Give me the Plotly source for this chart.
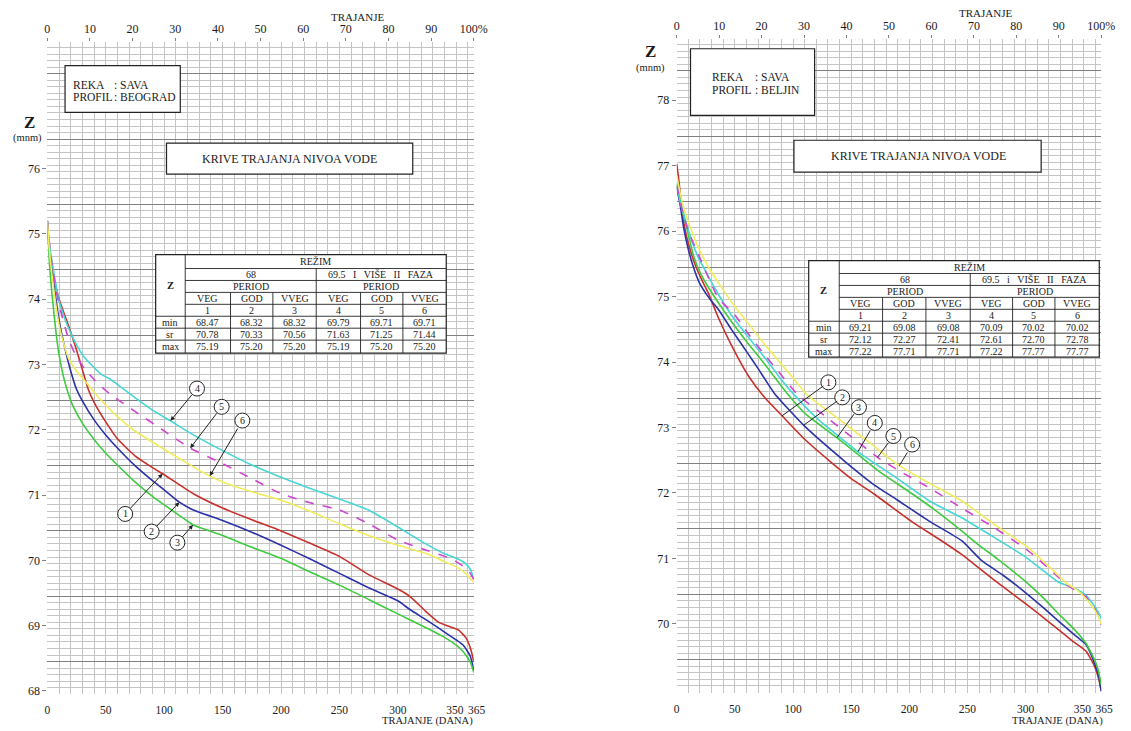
import numpy as np
import plotly.graph_objects as go

W, H = 1131, 731
SERIF = "Liberation Serif"
INK = "#1a1a1a"
LIGHT = "#c4c4c4"
DARK = "#808080"

# ===================== DATA =====================
# Sava - profil Beograd: duration (days) vs water level Z (m a.s.l.)
bg1_days = [0, 2, 5, 10, 15, 20, 25, 30, 35, 40, 50, 60, 75, 90, 100, 125, 150, 175, 200, 225, 250, 275, 300, 310, 325, 335, 345, 352, 358, 362, 365]
bg1_z = [75.19, 74.75, 74.4, 74.0, 73.75, 73.5, 73.22, 72.92, 72.62, 72.42, 72.12, 71.86, 71.6, 71.42, 71.31, 71.02, 70.8, 70.62, 70.45, 70.26, 70.06, 69.78, 69.56, 69.45, 69.2, 69.05, 68.98, 68.93, 68.82, 68.66, 68.45]

bg2_days = [0, 2, 5, 10, 15, 20, 25, 30, 40, 50, 60, 75, 90, 100, 113, 125, 150, 175, 200, 225, 250, 275, 300, 310, 325, 340, 350, 356, 362, 365]
bg2_z = [75.2, 74.65, 74.3, 73.68, 73.25, 72.9, 72.62, 72.44, 72.15, 71.92, 71.72, 71.45, 71.22, 71.08, 70.89, 70.77, 70.61, 70.43, 70.23, 70.02, 69.8, 69.58, 69.38, 69.25, 69.08, 68.9, 68.78, 68.7, 68.53, 68.32]

bg3_days = [0, 2, 4, 8, 11, 14, 18, 22, 30, 40, 50, 60, 75, 90, 100, 112, 125, 150, 175, 200, 225, 250, 275, 300, 325, 340, 350, 356, 362, 365]
bg3_z = [75.2, 74.5, 74.07, 73.4, 73.05, 72.8, 72.55, 72.36, 72.1, 71.85, 71.64, 71.46, 71.2, 70.98, 70.85, 70.7, 70.54, 70.38, 70.2, 70.03, 69.82, 69.62, 69.4, 69.18, 68.96, 68.82, 68.7, 68.6, 68.44, 68.28]

bg4_days = [0, 2, 4, 7, 10, 14, 18, 25, 32, 46, 55, 75, 90, 105, 125, 150, 175, 200, 225, 250, 275, 300, 325, 340, 350, 358, 362, 365]
bg4_z = [75.19, 74.8, 74.58, 74.25, 73.97, 73.75, 73.56, 73.3, 73.1, 72.85, 72.76, 72.49, 72.3, 72.14, 71.92, 71.68, 71.46, 71.27, 71.1, 70.94, 70.77, 70.51, 70.24, 70.1, 70.03, 69.95, 69.86, 69.72]

bg5_days = [0, 3, 6, 9, 13, 18, 24, 32, 41, 50, 58, 75, 100, 122, 150, 175, 200, 225, 250, 275, 300, 325, 340, 350, 358, 362, 365]
bg5_z = [75.2, 74.65, 74.3, 74.0, 73.71, 73.4, 73.15, 72.93, 72.75, 72.6, 72.49, 72.28, 71.98, 71.72, 71.48, 71.25, 71.02, 70.88, 70.77, 70.56, 70.31, 70.15, 70.06, 69.98, 69.88, 69.8, 69.7]

bg6_days = [0, 2, 4, 7, 10, 14, 18, 25, 32, 46, 60, 75, 100, 125, 139, 150, 175, 200, 225, 250, 275, 300, 325, 340, 350, 358, 362, 365]
bg6_z = [75.2, 74.7, 74.37, 73.95, 73.61, 73.32, 73.1, 72.9, 72.75, 72.45, 72.2, 71.98, 71.7, 71.43, 71.29, 71.2, 71.05, 70.92, 70.75, 70.56, 70.38, 70.23, 70.1, 69.98, 69.9, 69.8, 69.72, 69.66]

# Sava - profil Beljin
bj1_days = [0, 2, 5, 9, 16, 22, 28, 36, 47, 62, 76, 90, 110, 132, 150, 170, 203, 225, 245, 260, 275, 299, 315, 329, 340, 352, 359, 363, 365]
bj1_z = [77.03, 76.75, 76.24, 75.88, 75.48, 75.24, 75.02, 74.67, 74.26, 73.78, 73.45, 73.19, 72.82, 72.48, 72.22, 71.98, 71.55, 71.3, 71.06, 70.85, 70.64, 70.32, 70.1, 69.9, 69.74, 69.58, 69.36, 69.15, 68.97]

bj2_days = [0, 3, 6, 10, 14, 19, 25, 30, 36, 47, 62, 70, 84, 110, 146, 170, 189, 217, 245, 262, 280, 299, 315, 329, 340, 352, 360, 363, 365]
bj2_z = [76.67, 76.4, 76.05, 75.72, 75.47, 75.23, 75.05, 74.93, 74.8, 74.5, 74.11, 73.9, 73.52, 73.02, 72.46, 72.12, 71.9, 71.57, 71.27, 70.97, 70.75, 70.49, 70.25, 70.03, 69.86, 69.68, 69.36, 69.18, 68.97]

bj3_days = [0, 5, 10, 14, 20, 28, 47, 62, 76, 95, 110, 138, 155, 174, 203, 225, 245, 260, 276, 299, 315, 329, 340, 352, 360, 363, 365]
bj3_z = [76.72, 76.3, 75.95, 75.65, 75.37, 75.12, 74.62, 74.27, 73.96, 73.52, 73.22, 72.84, 72.6, 72.33, 71.98, 71.7, 71.42, 71.2, 70.99, 70.66, 70.4, 70.14, 69.95, 69.7, 69.42, 69.25, 69.07]

bj4_days = [0, 3, 8, 13, 19, 26, 33, 47, 62, 76, 87, 98, 120, 155, 189, 217, 245, 273, 300, 316, 328, 344, 352, 360, 363, 365]
bj4_z = [76.75, 76.45, 76.14, 75.85, 75.58, 75.35, 75.12, 74.72, 74.37, 74.06, 73.8, 73.56, 73.15, 72.64, 72.23, 71.88, 71.62, 71.32, 71.02, 70.8, 70.64, 70.53, 70.43, 70.25, 70.16, 70.08]

bj5_days = [0, 5, 10, 19, 27, 36, 50, 62, 76, 90, 104, 130, 150, 173, 195, 217, 245, 273, 302, 324, 335, 344, 352, 360, 363, 365]
bj5_z = [76.7, 76.3, 76.0, 75.63, 75.3, 74.97, 74.72, 74.42, 74.1, 73.8, 73.5, 73.14, 72.86, 72.54, 72.3, 72.08, 71.77, 71.47, 71.12, 70.78, 70.6, 70.5, 70.41, 70.21, 70.1, 69.98]

bj6_days = [0, 5, 11, 20, 28, 47, 62, 76, 98, 112, 140, 165, 191, 217, 245, 273, 302, 324, 335, 344, 352, 358, 362, 365]
bj6_z = [76.85, 76.42, 76.09, 75.7, 75.43, 74.92, 74.58, 74.26, 73.8, 73.5, 73.12, 72.78, 72.42, 72.15, 71.88, 71.52, 71.17, 70.81, 70.62, 70.52, 70.38, 70.25, 70.12, 70.0]

series_colors = ["#c8302c", "#2a32a8", "#3fcb3f", "#45d6d6", "#cf45cf", "#f0ec5a"]
series_dash = ["solid", "solid", "solid", "solid", "dash", "solid"]

# Curve label circles (number, day of arrow tip, circle centre day, circle centre Z)
lab_nums = [1, 2, 3, 4, 5, 6]
bg_lab_tip_day = [98.6, 113, 124.7, 105.4, 122.3, 139]
bg_lab_c_day = [66.6, 89.3, 111.3, 128.1, 149.2, 166.9]
bg_lab_c_z = [70.71, 70.44, 70.27, 72.63, 72.35, 72.14]
bj_lab_tip_day = [90.6, 109.2, 137.7, 155.8, 172.7, 191.4]
bj_lab_c_day = [130.4, 142.3, 156.7, 170.3, 186.3, 202.4]
bj_lab_c_z = [73.69, 73.46, 73.31, 73.07, 72.87, 72.74]

# Axis ticks
NB = "\u00a0"
day_ticks = [0, 50, 100, 150, 200, 250, 300, 350, 365]
day_text = ["0", "50", "100", "150", "200", "250", "300", "350" + NB, NB * 2 + "365"]
pct_ticks = [0, 10, 20, 30, 40, 50, 60, 70, 80, 90, 100]
pct_text = ["0", "10", "20", "30", "40", "50", "60", "70", "80", "90", "100%"]
bg_z_ticks = [68, 69, 70, 71, 72, 73, 74, 75, 76]
bj_z_ticks = [70, 71, 72, 73, 74, 75, 76, 77, 78]

# Tables
tbl_period = ["VEG", "GOD", "VVEG", "VEG", "GOD", "VVEG"]
tbl_num = ["1", "2", "3", "4", "5", "6"]
tbl_rowlab = ["min", "sr", "max"]
bg_min = [68.47, 68.32, 68.32, 69.79, 69.71, 69.71]
bg_sr = [70.78, 70.33, 70.56, 71.63, 71.25, 71.44]
bg_max = [75.19, 75.20, 75.20, 75.19, 75.20, 75.20]
bj_min = [69.21, 69.08, 69.08, 70.09, 70.02, 70.02]
bj_sr = [72.12, 72.27, 72.41, 72.61, 72.70, 72.78]
bj_max = [77.22, 77.71, 77.71, 77.22, 77.77, 77.77]

bg_series = [(bg1_days, bg1_z), (bg2_days, bg2_z), (bg3_days, bg3_z),
             (bg4_days, bg4_z), (bg5_days, bg5_z), (bg6_days, bg6_z)]
bj_series = [(bj1_days, bj1_z), (bj2_days, bj2_z), (bj3_days, bj3_z),
             (bj4_days, bj4_z), (bj5_days, bj5_z), (bj6_days, bj6_z)]

# ===================== FIGURE =====================
fig = go.Figure()
for series, xa, ya in [(bg_series, "x", "y"), (bj_series, "x2", "y2")]:
    for i, (d, z) in enumerate(series):
        fig.add_trace(go.Scatter(
            x=d, y=z, mode="lines", xaxis=xa, yaxis=ya, showlegend=False, hoverinfo="skip",
            line=dict(color=series_colors[i], width=1.6, dash=series_dash[i],
                      shape="spline", smoothing=0.5)))

# empty traces so that the overlay axes (percent scale, major grid) are drawn
for xa, ya in [("x3", "y"), ("x", "y3"), ("x4", "y2"), ("x2", "y4")]:
    fig.add_trace(go.Scatter(x=[], y=[], xaxis=xa, yaxis=ya, mode="lines",
                             showlegend=False, hoverinfo="skip"))


def px(p):
    return p / W


def py(p):
    return 1 - p / H


shapes = []
annotations = []


def text(x, y, s, size=12, xanchor="center", bold=False, family=SERIF):
    annotations.append(dict(
        x=px(x), y=py(y), xref="paper", yref="paper", text=("<b>%s</b>" % s) if bold else s,
        showarrow=False, xanchor=xanchor, yanchor="middle",
        font=dict(family=family, size=size, color=INK)))


def rect(x0, y0, x1, y1, lw=1.2):
    shapes.append(dict(type="rect", xref="paper", yref="paper", x0=px(x0), x1=px(x1),
                       y0=py(y1), y1=py(y0), line=dict(color="#222", width=lw),
                       fillcolor="white", layer="above"))


def hline(x0, x1, y, lw=0.9):
    shapes.append(dict(type="line", xref="paper", yref="paper", x0=px(x0), x1=px(x1),
                       y0=py(y), y1=py(y), line=dict(color="#222", width=lw), layer="above"))


def vline(x, y0, y1, lw=0.9):
    shapes.append(dict(type="line", xref="paper", yref="paper", x0=px(x), x1=px(x),
                       y0=py(y0), y1=py(y1), line=dict(color="#222", width=lw), layer="above"))


def table(cx, ry, group2, mins, srs, maxs):
    rect(cx[0], ry[0], cx[-1], ry[-1], 1.2)
    vline(cx[1], ry[0], ry[-1])
    for r in ry[1:5]:
        hline(cx[1], cx[-1], r)
    for r in ry[5:8]:
        hline(cx[0], cx[-1], r)
    vline(cx[4], ry[1], ry[-1])
    for c in [cx[2], cx[3], cx[5], cx[6]]:
        vline(c, ry[3], ry[-1])
    fs = 10
    mid = lambda a, b: (a + b) / 2
    text(mid(cx[0], cx[1]), mid(ry[0], ry[5]), "Z", fs + 0.5, bold=True)
    text(mid(cx[1], cx[-1]), mid(ry[0], ry[1]), "REŽIM", fs)
    text(mid(cx[1], cx[4]), mid(ry[1], ry[2]), "68", fs)
    text(mid(cx[4], cx[-1]), mid(ry[1], ry[2]), group2, fs)
    text(mid(cx[1], cx[4]), mid(ry[2], ry[3]), "PERIOD", fs)
    text(mid(cx[4], cx[-1]), mid(ry[2], ry[3]), "PERIOD", fs)
    for j in range(6):
        xc = mid(cx[j + 1], cx[j + 2])
        text(xc, mid(ry[3], ry[4]), tbl_period[j], fs)
        text(xc, mid(ry[4], ry[5]), tbl_num[j], fs)
        for k, vals in enumerate([mins, srs, maxs]):
            text(xc, mid(ry[5 + k], ry[6 + k]), "%.2f" % vals[j], fs)
    for k in range(3):
        text(mid(cx[0], cx[1]), mid(ry[5 + k], ry[6 + k]), tbl_rowlab[k], fs)


# ---- left panel decorations ----
rect(63, 66, 180, 113)
text(69, 85, "REKA", 11.5, "left")
text(111, 85, ":" + NB + "SAVA", 11.5, "left")
text(69, 98, "PROFIL", 11.5, "left")
text(111, 98, ":" + NB + "BEOGRAD", 11.5, "left")
rect(166, 144, 416, 175)
text(291, 160, "KRIVE TRAJANJA NIVOA VODE", 12)
table([155, 185, 231, 274, 318, 363, 406, 450], [256, 270, 282, 294, 306, 318, 330, 342, 355],
      "69.5" + NB * 3 + "I" + NB * 3 + "VIŠE" + NB * 3 + "II" + NB * 3 + "FAZA", bg_min, bg_sr, bg_max)
text(27, 123, "Z", 17, bold=True)
text(25, 139, "(mnm)", 10.5)
text(360, 17, "TRAJANJE", 11)
text(479, 725, "TRAJANJE (DANA)", 10.5, "right")

# ---- right panel decorations ----
rect(698, 49, 824, 116)
text(718, 77, "REKA", 11.5, "left")
text(761, 77, ":" + NB + "SAVA", 11.5, "left")
text(718, 90, "PROFIL", 11.5, "left")
text(761, 90, ":" + NB + "BELJIN", 11.5, "left")
rect(803, 141, 1054, 173)
text(929, 157, "KRIVE TRAJANJA NIVOA VODE", 12)
table([818, 849, 893, 937, 982, 1025, 1068, 1113], [262, 275, 287, 299, 311, 323, 335, 347, 359],
      "69.5" + NB * 3 + "i" + NB * 3 + "VIŠE" + NB * 3 + "II" + NB * 3 + "FAZA", bj_min, bj_sr, bj_max)
text(657, 52, "Z", 17, bold=True)
text(657, 68, "(mnm)", 10.5)
text(997, 13, "TRAJANJE", 11)
text(1119, 725, "TRAJANJE (DANA)", 10.5, "right")

# ---- curve number labels ----
for series, xa, ya, tips, cd, cz, head in [
        (bg_series, "x", "y", bg_lab_tip_day, bg_lab_c_day, bg_lab_c_z, 2),
        (bj_series, "x2", "y2", bj_lab_tip_day, bj_lab_c_day, bj_lab_c_z, 0)]:
    for i, n in enumerate(lab_nums):
        d, z = series[n - 1]
        tz = float(np.interp(tips[i], d, z))
        shapes.append(dict(type="circle", xref=xa, yref=ya, xsizemode="pixel", ysizemode="pixel",
                           xanchor=cd[i], yanchor=cz[i], x0=-7.5, x1=7.5, y0=-7.5, y1=7.5,
                           line=dict(color="#222", width=1), fillcolor="white", layer="above"))
        annotations.append(dict(
            x=tips[i], y=tz, xref=xa, yref=ya, ax=cd[i], ay=cz[i], axref=xa, ayref=ya,
            text=str(n), showarrow=True, arrowhead=head, arrowsize=0.9, arrowwidth=1,
            arrowcolor="#222", standoff=0, borderpad=2,
            font=dict(family=SERIF, size=10, color=INK)))


def x_days(domain, anchor):
    return dict(domain=domain, anchor=anchor, range=[0, 365], tickmode="array",
                tickvals=day_ticks, ticktext=day_text, tickangle=0,
                ticks="", ticklabelstandoff=7, showgrid=True, gridcolor=LIGHT, gridwidth=0.8,
                zeroline=False, showline=False, fixedrange=True,
                minor=dict(tickmode="linear", tick0=0, dtick=10, showgrid=True,
                           gridcolor=LIGHT, gridwidth=0.8, ticks=""),
                tickfont=dict(family=SERIF, size=11.5, color=INK))


def x_pct(over, anchor):
    return dict(overlaying=over, anchor=anchor, side="top", range=[0, 100], tickmode="array",
                tickvals=pct_ticks, ticktext=pct_text, tickangle=0, ticks="outside", ticklen=3,
                tickcolor=DARK, showgrid=False, zeroline=False, showline=False, fixedrange=True,
                tickfont=dict(family=SERIF, size=12, color=INK))


def y_z(domain, anchor, rng, tv):
    return dict(domain=domain, anchor=anchor, range=rng, tickmode="array", tickvals=tv,
                ticks="outside", ticklen=4, tickcolor=DARK, showgrid=False, zeroline=False,
                showline=False, fixedrange=True,
                minor=dict(tickmode="linear", tick0=0.05, dtick=0.1, showgrid=True,
                           gridcolor=LIGHT, gridwidth=0.7, ticks=""),
                tickfont=dict(family=SERIF, size=12, color=INK))


def y_major(over, anchor, rng):
    return dict(overlaying=over, anchor=anchor, range=rng, tickmode="linear", tick0=0.45,
                dtick=1, showgrid=True, gridcolor=DARK, gridwidth=1, showticklabels=False,
                ticks="", zeroline=False, showline=False, fixedrange=True)


bg_range = [67.95, 77.94]
bj_range = [68.94, 78.94]
fig.update_layout(
    width=W, height=H, margin=dict(l=0, r=0, t=0, b=0),
    paper_bgcolor="white", plot_bgcolor="white", showlegend=False,
    xaxis=x_days([px(45), px(478)], "y"),
    yaxis=y_z([py(698), py(42)], "x", bg_range, bg_z_ticks),
    xaxis2=x_days([px(684), px(1115)], "y2"),
    yaxis2=y_z([py(697), py(39)], "x2", bj_range, bj_z_ticks),
    xaxis3=x_pct("x", "y"),
    yaxis3=y_major("y", "x", bg_range),
    xaxis4=x_pct("x2", "y2"),
    yaxis4=y_major("y2", "x2", bj_range),
    shapes=shapes, annotations=annotations,
)

fig.write_html("out.html", config={"displayModeBar": False},
               post_script="document.body.style.margin='0';")
